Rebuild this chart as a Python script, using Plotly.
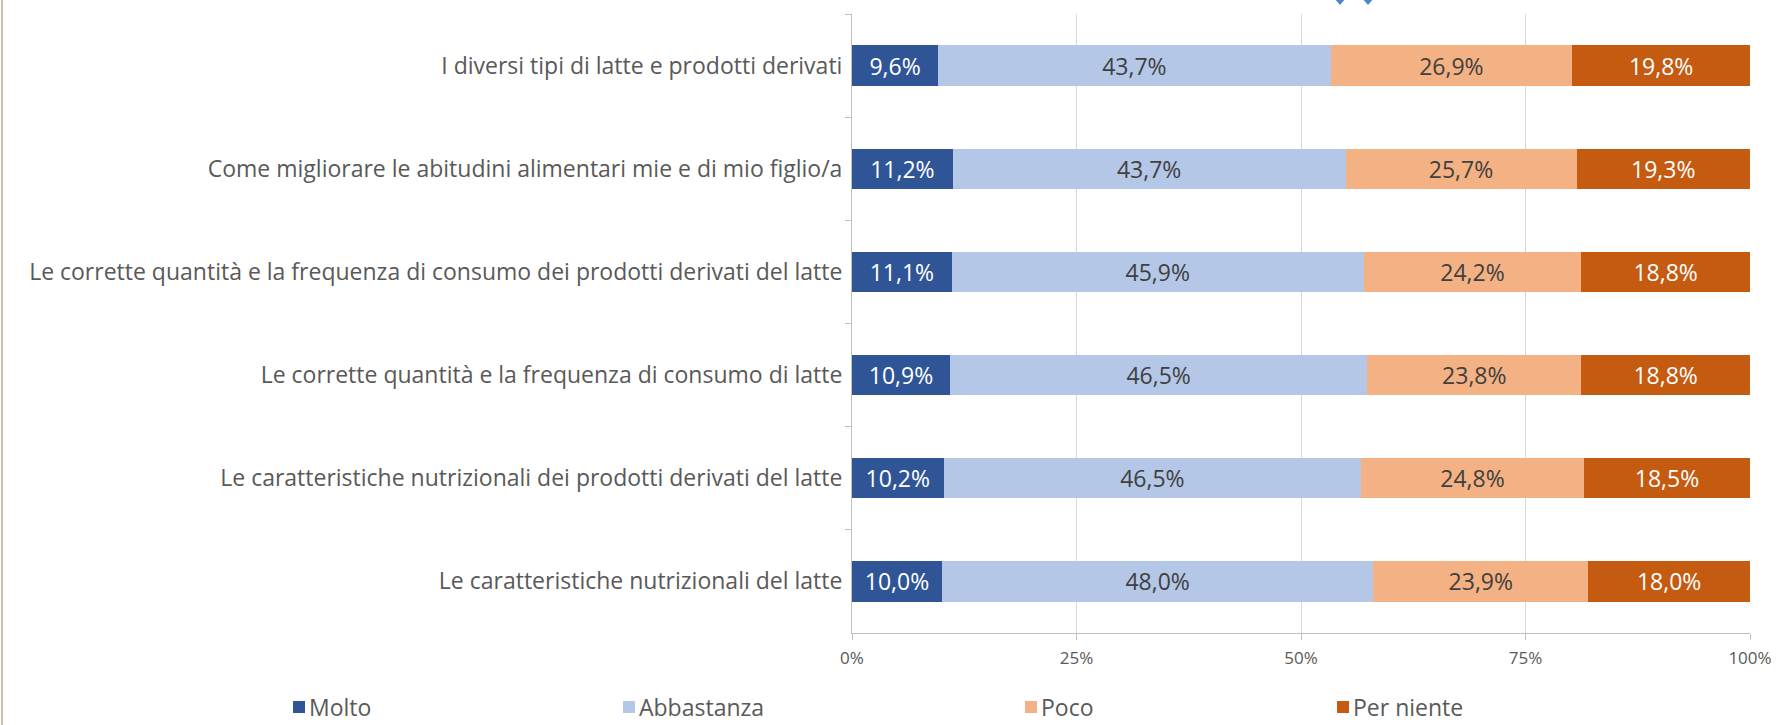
import plotly.graph_objects as go

categories = [
    "I diversi tipi di latte e prodotti derivati",
    "Come migliorare le abitudini alimentari mie e di mio figlio/a",
    "Le corrette quantità e la frequenza di consumo dei prodotti derivati del latte",
    "Le corrette quantità e la frequenza di consumo di latte",
    "Le caratteristiche nutrizionali dei prodotti derivati del latte",
    "Le caratteristiche nutrizionali del latte",
]
molto = [9.6, 11.2, 11.1, 10.9, 10.2, 10.0]
abbastanza = [43.7, 43.7, 45.9, 46.5, 46.5, 48.0]
poco = [26.9, 25.7, 24.2, 23.8, 24.8, 23.9]
per_niente = [19.8, 19.3, 18.8, 18.8, 18.5, 18.0]
series_names = ["Molto", "Abbastanza", "Poco", "Per niente"]
x_ticks = [0, 0.25, 0.5, 0.75, 1]
x_tick_labels = ["0%", "25%", "50%", "75%", "100%"]

colors = ["#2F5597", "#B4C7E7", "#F4B183", "#C55A11"]
text_colors = ["white", "#404040", "#404040", "white"]
FONT = "Open Sans"

W, H = 1781, 725
left, right, top, bottom = 852, 31, 14, 92
pw = W - left - right
ph = H - top - bottom

# left edge of each legend swatch in pixels (Excel spacing is uneven)
legend_px = [293, 623, 1025, 1337]
legend_py = 707


def px_x(px):
    """pixel x -> paper x"""
    return (px - left) / pw


def px_y(py):
    """pixel y (from top) -> paper y"""
    return (H - bottom - py) / ph


fig = go.Figure()
for i, (name, vals) in enumerate(zip(series_names, [molto, abbastanza, poco, per_niente])):
    fig.add_trace(go.Bar(
        y=categories, x=vals, name=name, orientation="h",
        marker=dict(color=colors[i], line=dict(width=0)),
        text=[("%.1f%%" % v).replace(".", ",") for v in vals],
        textposition="inside", insidetextanchor="middle", textangle=0,
        textfont=dict(family=FONT, size=23, color=text_colors[i]),
        hoverinfo="skip",
    ))

# legend drawn by hand so that it sits where Excel put it
for i, px in enumerate(legend_px):
    fig.add_shape(type="rect", xref="paper", yref="paper",
                  x0=px_x(px), x1=px_x(px + 12),
                  y0=px_y(legend_py + 6), y1=px_y(legend_py - 6),
                  fillcolor=colors[i], line=dict(width=0))
    fig.add_annotation(x=px_x(px + 15), y=px_y(legend_py), xref="paper", yref="paper",
                       text=series_names[i], showarrow=False,
                       xanchor="left", yanchor="middle", borderpad=0,
                       font=dict(family=FONT, size=23, color="#595959"))

fig.update_layout(
    barmode="stack", barnorm="fraction", bargap=0.61,
    width=W, height=H, plot_bgcolor="white", paper_bgcolor="white",
    margin=dict(l=left, r=right, t=top, b=bottom),
    showlegend=False,
    font=dict(family=FONT, color="#595959"),
)
fig.update_xaxes(
    range=[0, 1], tickvals=x_ticks, ticktext=x_tick_labels,
    showgrid=True, gridcolor="#D9D9D9", gridwidth=1,
    showline=True, linecolor="#BFBFBF", linewidth=1,
    ticks="outside", ticklen=6, tickcolor="#BFBFBF",
    tickfont=dict(family=FONT, size=17, color="#595959"),
    ticklabelstandoff=4, zeroline=False, automargin=False,
)
fig.update_yaxes(
    autorange="reversed", categoryorder="array", categoryarray=categories,
    showline=True, linecolor="#BFBFBF", linewidth=1,
    ticks="outside", ticklen=6, tickcolor="#BFBFBF", tickson="boundaries",
    tickfont=dict(family=FONT, size=23, color="#595959"),
    ticklabelstandoff=4, showgrid=False, automargin=False,
)

# thin frame line at left edge of the picture
fig.add_shape(type="line", xref="paper", yref="paper",
              x0=px_x(2), x1=px_x(2), y0=px_y(H), y1=px_y(0),
              line=dict(color="#C8BFAF", width=2), layer="below")

# bits of the blue logo cut off at the top edge
for cx in [1340, 1368]:
    fig.add_shape(type="path", xref="paper", yref="paper",
                  path="M %f,%f L %f,%f L %f,%f Z" % (
                      px_x(cx - 6), px_y(-2), px_x(cx + 6), px_y(-2), px_x(cx), px_y(5)),
                  fillcolor="#4A86C8", line=dict(width=0))

fig.write_html("out.html", config={"displayModeBar": False},
               post_script="document.body.style.margin='0';"
                           "document.body.style.overflow='hidden';")
